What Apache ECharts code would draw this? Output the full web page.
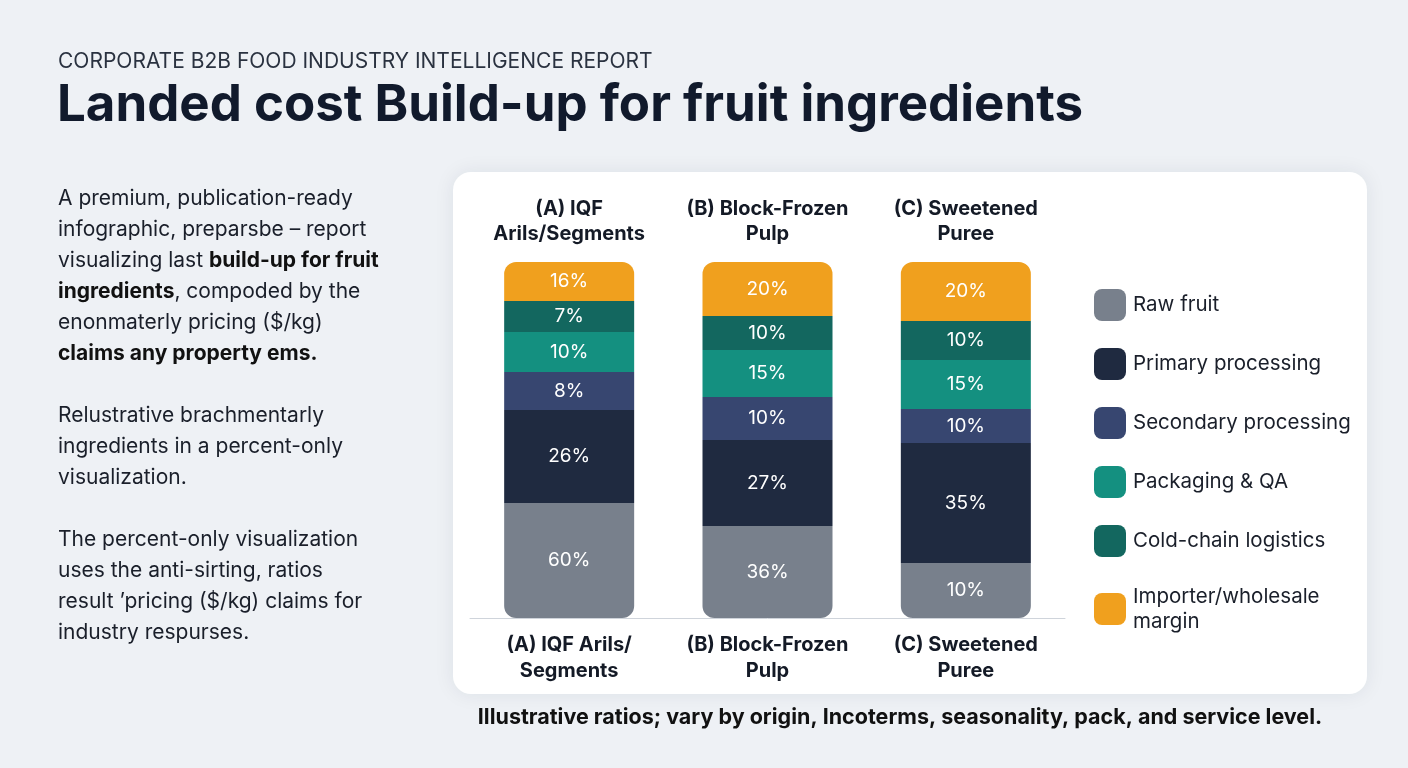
<!DOCTYPE html>
<html><head><meta charset="utf-8">
<script src="https://cdn.jsdelivr.net/npm/echarts@6/dist/echarts.min.js"></script>
<style>html,body{margin:0;padding:0;background:#eef1f5}#c{width:1408px;height:768px}</style>
</head><body><div id="c"></div>
<script>
const categories = ['(A) IQF\nArils/Segments', '(B) Block-Frozen\nPulp', '(C) Sweetened\nPuree'];
const bottomLabels = ['(A) IQF Arils/\nSegments', '(B) Block-Frozen\nPulp', '(C) Sweetened\nPuree'];
const seriesNames = ['Raw fruit', 'Primary processing', 'Secondary processing', 'Packaging & QA', 'Cold-chain logistics', 'Importer/wholesale margin'];
const colors = ['#78808c', '#1f2a40', '#374670', '#149080', '#13675f', '#f0a01e'];
// labelled percentages per stage
const rawFruit = [60, 36, 10];
const primary = [26, 27, 35];
const secondary = [8, 10, 10];
const packaging = [10, 15, 15];
const coldChain = [7, 10, 10];
const margin = [16, 20, 20];
// drawn segment heights (bars are equal height)
const hRaw = [115, 92, 55];
const hPrimary = [93, 86, 120];
const hSecondary = [38, 43, 34];
const hPackaging = [40, 47, 49];
const hCold = [31, 34, 39];
const hMargin = [39, 54, 59];

const labels = [rawFruit, primary, secondary, packaging, coldChain, margin];
const heights = [hRaw, hPrimary, hSecondary, hPackaging, hCold, hMargin];

const chart = echarts.init(document.getElementById('c'));
const series = seriesNames.map((n, i) => ({
  name: n, type: 'bar', stack: 'all', barWidth: 130,
  itemStyle: { color: colors[i], borderRadius: i === 0 ? [0,0,12,12] : (i === 5 ? [12,12,0,0] : 0) },
  label: { show: true, position: 'inside', color: '#fff', fontSize: 19, fontFamily: 'Inter',
    formatter: p => labels[i][p.dataIndex] + '%' },
  data: heights[i]
}));

const F = 'Inter, Roboto, sans-serif';
const leftText = [
  'A premium, publication-ready',
  'infographic, preparsb\u0435 \u2013 report',
  'visualizing last {b|build-up for fruit}',
  '{b|ingredients}, compoded by the',
  'enonmaterly pricing ($/kg)',
  '{b|claims any property ems.}',
  '',
  'Relustrative brachmentarly',
  'ingredients in a percent-only',
  'visualization.',
  '',
  'The percent-only visualization',
  'uses the anti-sirting, ratios',
  'result \u2019pricing ($/kg) claims for',
  'industry respurses.'
].join('\n');

chart.setOption({
  backgroundColor: '#eef1f5',
  graphic: [
    { type: 'rect', shape: { x: 453, y: 172, width: 914, height: 522, r: 18 }, style: { fill: '#fff', shadowBlur: 20, shadowColor: 'rgba(30,40,60,0.08)' }, z: -1 },
    { type: 'text', left: 58, top: 51, style: { text: 'CORPORATE B2B FOOD INDUSTRY INTELLIGENCE REPORT', font: '21px ' + F, fill: '#2a3240' } },
    { type: 'text', left: 57, top: 80, style: { text: 'Landed cost Build-up for fruit ingredients', font: 'bold 51px ' + F, fill: '#111a2c' } },
    { type: 'text', left: 58, top: 183, style: { text: leftText, font: '21px ' + F, fill: '#1a1f2a', lineHeight: 31,
      rich: { b: { fontWeight: 'bold', fontSize: 21, fontFamily: 'Inter', fill: '#111', lineHeight: 31 } } } },
    { type: 'text', x: 900, y: 707, style: { text: 'Illustrative ratios; vary by origin, Incoterms, seasonality, pack, and service level.', font: 'bold 21.5px ' + F, fill: '#111', textAlign: 'center' } }
  ],
  legend: {
    orient: 'vertical', left: 1089, top: 284, itemWidth: 32, itemHeight: 32, itemGap: 27,
    icon: 'roundRect', selectedMode: false,
    textStyle: { fontSize: 20.5, fontFamily: 'Inter', color: '#1a1f2a', lineHeight: 25, padding: [0,0,0,2] },
    formatter: n => n === 'Importer/wholesale margin' ? 'Importer/wholesale\nmargin' : n,
    data: seriesNames
  },
  grid: { left: 470, width: 595, top: 262, bottom: 150, containLabel: false },
  xAxis: [
    { type: 'category', data: bottomLabels, axisTick: { show: false },
      axisLine: { lineStyle: { color: '#cfd4db' } },
      axisLabel: { interval: 0, fontSize: 20, fontWeight: 'bold', fontFamily: 'Inter', color: '#141a26', lineHeight: 26, margin: 14 } },
    { type: 'category', position: 'top', data: categories, axisTick: { show: false }, axisLine: { show: false },
      axisLabel: { interval: 0, fontSize: 20, fontWeight: 'bold', fontFamily: 'Inter', color: '#141a26', lineHeight: 25, margin: 16 } }
  ],
  yAxis: { type: 'value', min: 0, max: 356, show: false },
  series
});
</script></body></html>
